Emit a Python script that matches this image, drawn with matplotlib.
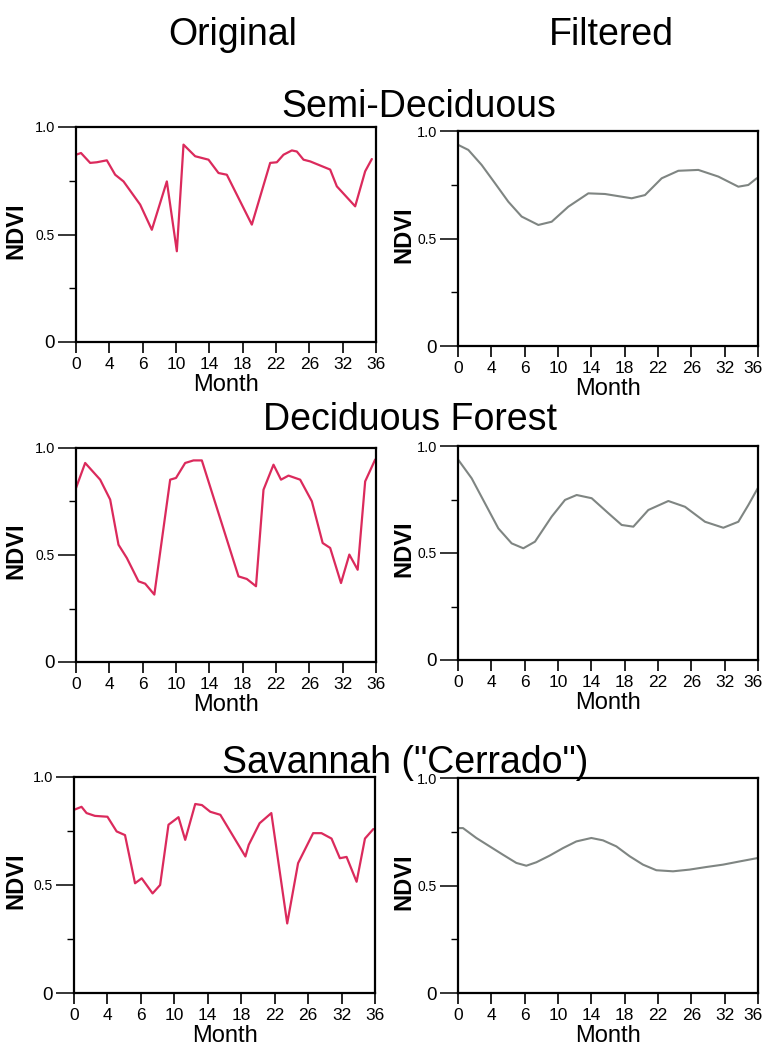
import matplotlib
matplotlib.use("Agg")
import matplotlib.pyplot as plt
import matplotlib.transforms as mtransforms
import numpy as np

plt.rcParams['font.family'] = ['Liberation Sans', 'DejaVu Sans']

# ---------------- data ----------------
col_titles = ["Original", "Filtered"]
row_titles = ["Semi-Deciduous", "Deciduous Forest", 'Savannah ("Cerrado")']
xtick_labels = ['0', '4', '6', '10', '14', '18', '22', '26', '32', '36']
ytick_labels = ['0', '0.5', '1.0']

semi_orig_x = [0, 0.6, 1.7, 2.5, 3.7, 4.7, 5.7, 7.7, 9.1, 10.9, 12.1, 12.9, 14.3, 15.9,
               17.1, 18.1, 21.1, 23.3, 24.1, 24.9, 25.9, 26.5, 27.3, 28.1, 30.5, 31.3,
               33.5, 34.7, 35.5]
semi_orig_y = [0.871, 0.879, 0.833, 0.836, 0.845, 0.778, 0.747, 0.639, 0.522, 0.747,
               0.422, 0.918, 0.864, 0.848, 0.786, 0.778, 0.546, 0.833, 0.836, 0.871,
               0.891, 0.886, 0.848, 0.840, 0.802, 0.724, 0.631, 0.794, 0.851]

semi_filt_x = [0.04, 1.24, 2.84, 4.44, 6.04, 7.64, 9.64, 11.24, 13.24, 15.64, 17.64,
               20.84, 22.44, 24.44, 26.44, 28.84, 31.24, 33.64, 34.84, 35.84]
semi_filt_y = [0.935, 0.912, 0.842, 0.757, 0.671, 0.602, 0.563, 0.578, 0.648, 0.710,
               0.707, 0.687, 0.702, 0.780, 0.815, 0.819, 0.788, 0.741, 0.749, 0.780]

dec_orig_x = [0, 1.1, 2.9, 4.1, 5.1, 6.1, 7.5, 8.3, 9.4, 11.3, 12.0, 13.1, 14.1, 15.1,
              19.5, 20.5, 21.6, 22.5, 23.7, 24.6, 25.5, 26.9, 28.3, 29.6, 30.5, 31.8,
              32.8, 33.8, 34.7, 35.9]
dec_orig_y = [0.813, 0.930, 0.852, 0.759, 0.548, 0.486, 0.377, 0.366, 0.315, 0.852,
              0.860, 0.930, 0.942, 0.942, 0.400, 0.388, 0.354, 0.805, 0.922, 0.852,
              0.871, 0.852, 0.751, 0.556, 0.533, 0.369, 0.502, 0.431, 0.844, 0.946]

dec_filt_x = [0.04, 1.64, 3.24, 4.84, 6.44, 7.84, 9.24, 11.24, 12.84, 14.24, 16.04,
              18.04, 19.64, 21.04, 22.84, 25.24, 27.24, 29.64, 31.84, 33.64, 34.84, 35.96]
dec_filt_y = [0.935, 0.849, 0.732, 0.615, 0.545, 0.522, 0.553, 0.670, 0.748, 0.771,
              0.756, 0.686, 0.631, 0.623, 0.701, 0.743, 0.716, 0.646, 0.618, 0.646,
              0.724, 0.802]

sav_orig_x = [0, 0.9, 1.5, 2.5, 4.0, 5.1, 6.1, 7.3, 8.1, 9.4, 10.3, 11.3, 12.5, 13.3,
              14.5, 15.3, 16.3, 17.5, 20.5, 20.9, 22.2, 23.6, 25.5, 26.8, 28.6, 29.6,
              30.8, 31.8, 32.6, 33.8, 34.8, 35.8]
sav_orig_y = [0.848, 0.862, 0.833, 0.820, 0.816, 0.748, 0.731, 0.508, 0.531, 0.461,
              0.500, 0.779, 0.814, 0.709, 0.875, 0.870, 0.839, 0.825, 0.632, 0.686,
              0.786, 0.833, 0.322, 0.601, 0.740, 0.740, 0.715, 0.624, 0.630, 0.515,
              0.715, 0.759]

sav_filt_x = [0, 0.6, 2.2, 3.8, 5.4, 7.0, 8.2, 9.4, 11.0, 12.6, 14.2, 16.0, 17.4, 19.0,
              20.6, 22.2, 23.8, 25.8, 27.8, 29.8, 31.8, 33.8, 36]
sav_filt_y = [0.767, 0.767, 0.721, 0.682, 0.643, 0.605, 0.592, 0.608, 0.639, 0.674,
              0.705, 0.721, 0.710, 0.682, 0.636, 0.597, 0.571, 0.566, 0.574, 0.586,
              0.597, 0.612, 0.628]

series = [
    [(semi_orig_x, semi_orig_y), (semi_filt_x, semi_filt_y)],
    [(dec_orig_x, dec_orig_y), (dec_filt_x, dec_filt_y)],
    [(sav_orig_x, sav_orig_y), (sav_filt_x, sav_filt_y)],
]

# ---------------- layout ----------------
W, H = 764, 1048
fig = plt.figure(figsize=(W / 100, H / 100), dpi=100)

# (left, top, right, bottom) in pixels
rects_px = [
    [(76, 127, 376, 342), (458, 131, 758, 346)],
    [(76, 448, 376, 662), (458, 446, 758, 660)],
    [(74, 777, 375, 993), (458, 778, 758, 993)],
]
ylabel_x_px = [27, 415]
line_colors = ["#db2a5c", "#7f8582"]

for r in range(3):
    for c in range(2):
        l, t, rr, b = rects_px[r][c]
        ax = fig.add_axes([l / W, 1 - b / H, (rr - l) / W, (b - t) / H])
        xs, ys = series[r][c]
        ax.plot(xs, ys, color=line_colors[c], lw=1.6 if c == 0 else 1.5,
                solid_joinstyle='round', solid_capstyle='round')
        ax.set_xlim(0, 36)
        ax.set_ylim(0, 1.0)
        ax.set_xticks(np.arange(0, 37, 4))
        ax.set_xticklabels(xtick_labels, fontsize=12.5)
        ax.set_yticks([0, 0.5, 1.0])
        ax.set_yticks([0.25, 0.75], minor=True)
        ax.set_yticklabels(ytick_labels)
        for lab, fs in zip(ax.get_yticklabels(), [13.5, 10, 10.5]):
            lab.set_fontsize(fs)
        ax.tick_params(axis='x', direction='out', length=8, width=1.2, pad=3, color='black')
        ax.tick_params(axis='y', which='major', direction='out', length=13, width=1.1,
                       pad=2, color='black')
        ax.tick_params(axis='y', which='minor', direction='out', length=5, width=1.0,
                       color='black')
        for s in ax.spines.values():
            s.set_linewidth(1.6)
            s.set_color('black')
        if c == 1:
            last = ax.get_xticklabels()[-1]
            last.set_transform(last.get_transform() +
                               mtransforms.ScaledTranslation(-5 / 100, 0, fig.dpi_scale_trans))
        ax.set_xlabel("Month", fontsize=17, labelpad=1)
        ax.set_ylabel("NDVI", fontsize=17, fontweight='bold')
        ax.yaxis.set_label_coords((ylabel_x_px[c] - l) / (rr - l), 0.52)

# column titles
fig.text(233 / W, 1 - 45 / H, col_titles[0], fontsize=27, ha='center', va='baseline')
fig.text(611 / W, 1 - 45 / H, col_titles[1], fontsize=27, ha='center', va='baseline')
# row titles
fig.text(419 / W, 1 - 117 / H, row_titles[0], fontsize=27, ha='center', va='baseline')
fig.text(410 / W, 1 - 430 / H, row_titles[1], fontsize=27, ha='center', va='baseline')
fig.text(405 / W, 1 - 773 / H, row_titles[2], fontsize=27, ha='center', va='baseline')

fig.savefig("out.png", dpi=100, facecolor='white')
